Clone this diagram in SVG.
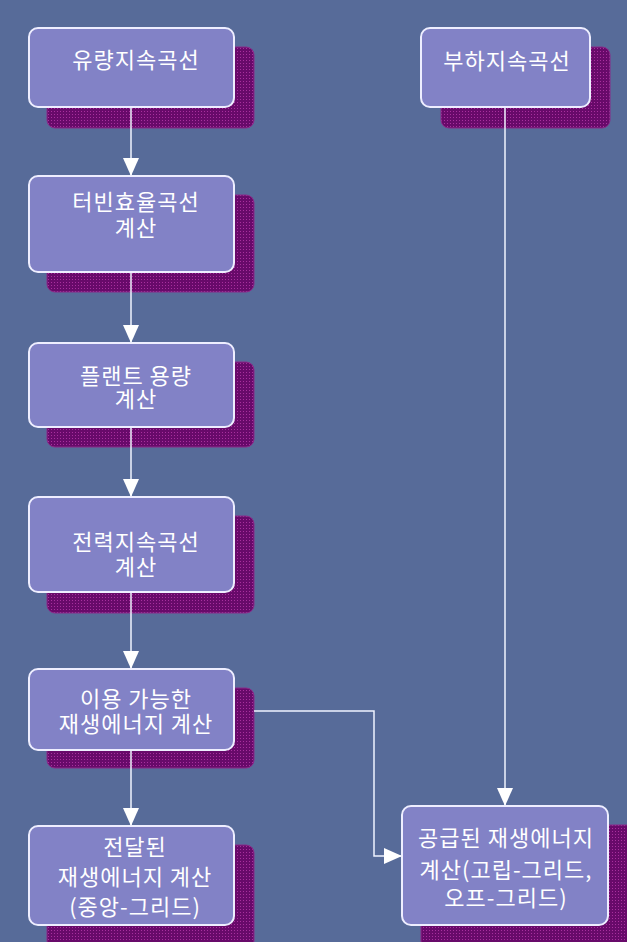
<svg xmlns="http://www.w3.org/2000/svg" width="627" height="942" viewBox="0 0 627 942">
<style>
.bg{fill:#576B99}
.sh{fill:url(#dots);stroke:#8A2A8A;stroke-width:1}
.box{fill:#8282C6;stroke:#EEEEFF;stroke-width:2}
.t{font-family:"Noto Sans CJK KR","Noto Sans",sans-serif;font-size:22px;letter-spacing:1px;fill:#FFFFFF;text-anchor:middle}
.c{fill:none;stroke:#F0F4FF;stroke-width:1.5}
</style>
<defs>
<pattern id="dots" width="3" height="3" patternUnits="userSpaceOnUse">
<rect width="3" height="3" fill="#680A6A"/>
<rect width="1" height="1" fill="#A8309E"/>
</pattern>
<marker id="ah" markerUnits="userSpaceOnUse" markerWidth="18" markerHeight="18" viewBox="0 0 18 18" refX="18" refY="9" orient="auto">
<path d="M0,1 L18,9 L0,17 Z" fill="#FFFFFF"/>
</marker>
</defs>
<rect class="bg" width="627" height="942"/>
<g id="shadows">
<rect class="sh" x="47" y="47" width="207" height="81" rx="8"/>
<rect class="sh" x="441" y="47" width="169" height="81" rx="8"/>
<rect class="sh" x="47" y="195" width="207" height="97" rx="8"/>
<rect class="sh" x="47" y="362" width="207" height="85" rx="8"/>
<rect class="sh" x="47" y="516" width="207" height="97" rx="8"/>
<rect class="sh" x="47" y="688" width="207" height="80" rx="8"/>
<rect class="sh" x="47" y="845" width="207" height="104" rx="8"/>
<rect class="sh" x="421" y="825" width="215" height="124" rx="8"/>
</g>
<g id="connectors">
<path class="c" d="M131,107 V176" marker-end="url(#ah)"/>
<path class="c" d="M131,272 V343" marker-end="url(#ah)"/>
<path class="c" d="M131,427 V497" marker-end="url(#ah)"/>
<path class="c" d="M131,592 V669" marker-end="url(#ah)"/>
<path class="c" d="M131,750 V826" marker-end="url(#ah)"/>
<path class="c" d="M505,107 V806" marker-end="url(#ah)"/>
<path class="c" d="M254,711 H374 V856 H402" marker-end="url(#ah)"/>
</g>
<g id="n1">
<rect class="box" x="29" y="28" width="205" height="79" rx="9"/>
<text class="t" x="136" y="68">유량지속곡선</text>
</g>
<g id="n2">
<rect class="box" x="421" y="28" width="169" height="79" rx="9"/>
<text class="t" x="507" y="69">부하지속곡선</text>
</g>
<g id="n3">
<rect class="box" x="29" y="176" width="205" height="96" rx="9"/>
<text class="t" x="136" y="210">터빈효율곡선</text>
<text class="t" x="136" y="236">계산</text>
</g>
<g id="n4">
<rect class="box" x="29" y="343" width="205" height="84" rx="9"/>
<text class="t" x="136" y="384">플랜트 용량</text>
<text class="t" x="136" y="407">계산</text>
</g>
<g id="n5">
<rect class="box" x="29" y="497" width="205" height="95" rx="9"/>
<text class="t" x="136" y="550">전력지속곡선</text>
<text class="t" x="136" y="575">계산</text>
</g>
<g id="n6">
<rect class="box" x="29" y="669" width="205" height="81" rx="9"/>
<text class="t" x="136" y="707">이용 가능한</text>
<text class="t" x="136" y="732">재생에너지 계산</text>
</g>
<g id="n7">
<rect class="box" x="29" y="826" width="205" height="99" rx="9"/>
<text class="t" x="135" y="855">전달된</text>
<text class="t" x="135" y="885">재생에너지 계산</text>
<text class="t" x="135" y="915">(중앙-그리드)</text>
</g>
<g id="n8">
<rect class="box" x="402" y="806" width="206" height="119" rx="9"/>
<text class="t" x="506" y="846">공급된 재생에너지</text>
<text class="t" x="506" y="878">계산(고립-그리드,</text>
<text class="t" x="506" y="906">오프-그리드)</text>
</g>
</svg>
